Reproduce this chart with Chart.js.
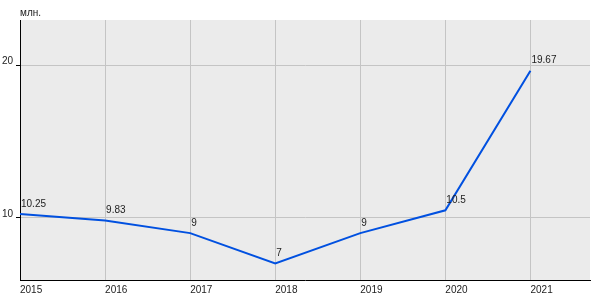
<!DOCTYPE html>
<html>
<head>
<meta charset="utf-8">
<script src="https://cdn.jsdelivr.net/npm/chart.js@4"></script>
<style>
html,body{margin:0;padding:0;background:#fff;}
#wrap{width:600px;height:300px;position:relative;}
</style>
</head>
<body>
<div id="wrap"><canvas id="c" width="600" height="300"></canvas></div>
<script>
const years = [2015, 2016, 2017, 2018, 2019, 2020, 2021];
const values = [10.25, 9.83, 9, 7, 9, 10.5, 19.67];
const yTicks = [10, 20];
const unitLabel = 'млн.';

const FONT = 'Arial, "Liberation Sans", sans-serif';
const FS = 10;

const bgPlugin = {
  id: 'bg',
  beforeDraw(chart) {
    const {ctx, chartArea: a} = chart;
    ctx.save();
    ctx.fillStyle = '#ebebeb';
    ctx.fillRect(a.left, a.top, a.right - a.left, a.bottom - a.top);
    ctx.restore();
  }
};

const labelPlugin = {
  id: 'labels',
  afterDatasetsDraw(chart) {
    const {ctx} = chart;
    const meta = chart.getDatasetMeta(0);
    ctx.save();
    ctx.font = FS + 'px ' + FONT;
    ctx.fillStyle = '#222';
    ctx.textAlign = 'left';
    ctx.textBaseline = 'middle';
    meta.data.forEach((pt, i) => {
      ctx.fillText(String(values[i]), pt.x + 1, pt.y - 10);
    });
    ctx.fillText(unitLabel, chart.chartArea.left, 13);
    ctx.restore();
  }
};

new Chart(document.getElementById('c'), {
  type: 'line',
  data: {
    datasets: [{
      data: years.map((y, i) => ({x: y, y: values[i]})),
      borderColor: '#0050e0',
      borderWidth: 2,
      pointRadius: 0,
      tension: 0,
      fill: false
    }]
  },
  options: {
    responsive: false,
    animation: false,
    events: [],
    layout: {padding: {top: 20, right: 10, left: 0, bottom: 0}},
    plugins: {legend: {display: false}, tooltip: {enabled: false}},
    scales: {
      x: {
        type: 'linear',
        min: 2015,
        max: 2021.7,
        afterBuildTicks(axis) { axis.ticks = years.map(v => ({value: v})); },
        afterFit(axis) { axis.height = 20; },
        border: {color: '#000', width: 1},
        grid: {color: '#c4c4c4', drawTicks: false, lineWidth: 1},
        ticks: {
          align: 'start',
          padding: 4,
          maxRotation: 0,
          autoSkip: false,
          color: '#222',
          font: {family: FONT, size: FS},
          callback: v => String(v)
        }
      },
      y: {
        min: 5.92,
        max: 23.0,
        afterBuildTicks(axis) { axis.ticks = yTicks.map(v => ({value: v})); },
        afterFit(axis) { axis.width = 20; },
        border: {color: '#000', width: 1},
        grid: {color: '#c4c4c4', drawTicks: true, tickLength: 4, tickColor: '#000', lineWidth: 1},
        ticks: {
          padding: 3,
          labelOffset: -4,
          color: '#222',
          font: {family: FONT, size: FS},
          callback: v => String(v)
        }
      }
    }
  },
  plugins: [bgPlugin, labelPlugin]
});
</script>
</body>
</html>
